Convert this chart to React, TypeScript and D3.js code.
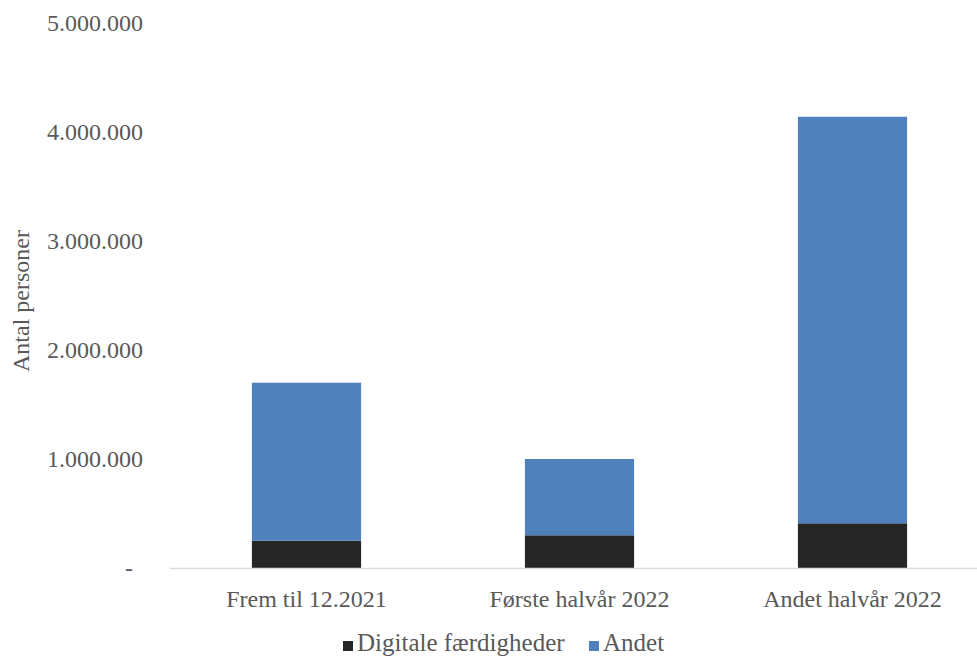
import React from 'react';
import * as d3 from 'd3';

// Data
const CATEGORIES = ['Frem til 12.2021', 'Første halvår 2022', 'Andet halvår 2022'];
const DIGITALE = [250000, 300000, 410000];
const ANDET = [1450000, 700000, 3730000];
const SERIES_NAMES = ['Digitale færdigheder', 'Andet'];
const SERIES_COLORS = ['#262626', '#4F81BD'];
const Y_TICKS = [0, 1000000, 2000000, 3000000, 4000000, 5000000];

const W = 977;
const H = 657;
const FONT = "'Liberation Serif'";
const TEXT = '#595959';

const x = d3.scaleBand<string>()
  .domain(CATEGORIES)
  .range([170, 989])
  .paddingInner(0.6)
  .paddingOuter(0.3);

const y = d3.scaleLinear()
  .domain([0, 5000000])
  .range([568, 23]);

const dk = d3.formatLocale({ decimal: ',', thousands: '.', grouping: [3], currency: ['', ''] });
const fmt = dk.format(',.0f');

type Row = { cat: string; d: number; a: number };
const rows: Row[] = CATEGORIES.map((c, i) => ({ cat: c, d: DIGITALE[i], a: ANDET[i] }));
const layers = d3.stack<Row>().keys(['d', 'a'])(rows);

const legendX = [343, 589];

const App: React.FC = () => (
  <svg
    width={W}
    height={H}
    viewBox={`0 0 ${W} ${H}`}
    style={{ position: 'absolute', left: 0, top: 0, background: '#fff', fontFamily: FONT }}
  >
    {/* y tick labels */}
    <g fill={TEXT} fontSize={24} textAnchor="end" style={{ fontFamily: FONT }}>
      {Y_TICKS.map(t => (
        <text key={t} x={t === 0 ? 133 : 143} y={y(t)} dy="0.35em">
          {t === 0 ? '-' : fmt(t)}
        </text>
      ))}
    </g>

    {/* y axis title */}
    <text
      transform="translate(29,301) rotate(-90)"
      textAnchor="middle"
      fontSize={24}
      fill={TEXT}
      style={{ fontFamily: FONT }}
    >
      Antal personer
    </text>

    {/* stacked bars */}
    {layers.map((layer, li) => (
      <g key={layer.key} fill={SERIES_COLORS[li]}>
        {layer.map(d => (
          <rect
            key={d.data.cat}
            x={x(d.data.cat)}
            width={x.bandwidth()}
            y={y(d[1])}
            height={y(d[0]) - y(d[1])}
          />
        ))}
      </g>
    ))}

    {/* x axis line */}
    <line x1={170} x2={W} y1={y(0) + 0.5} y2={y(0) + 0.5} stroke="#d9d9d9" strokeWidth={1.5} />

    {/* category labels */}
    <g fill={TEXT} fontSize={24} textAnchor="middle" style={{ fontFamily: FONT }}>
      {CATEGORIES.map(c => (
        <text key={c} x={x(c)! + x.bandwidth() / 2} y={607}>
          {c}
        </text>
      ))}
    </g>

    {/* legend */}
    <g style={{ fontFamily: FONT }}>
      {SERIES_NAMES.map((name, i) => (
        <g key={name}>
          <rect x={legendX[i]} y={641} width={10} height={10} fill={SERIES_COLORS[i]} />
          <text x={legendX[i] + 14} y={651} fontSize={25} fill={TEXT}>
            {name}
          </text>
        </g>
      ))}
    </g>
  </svg>
);

export default App;
